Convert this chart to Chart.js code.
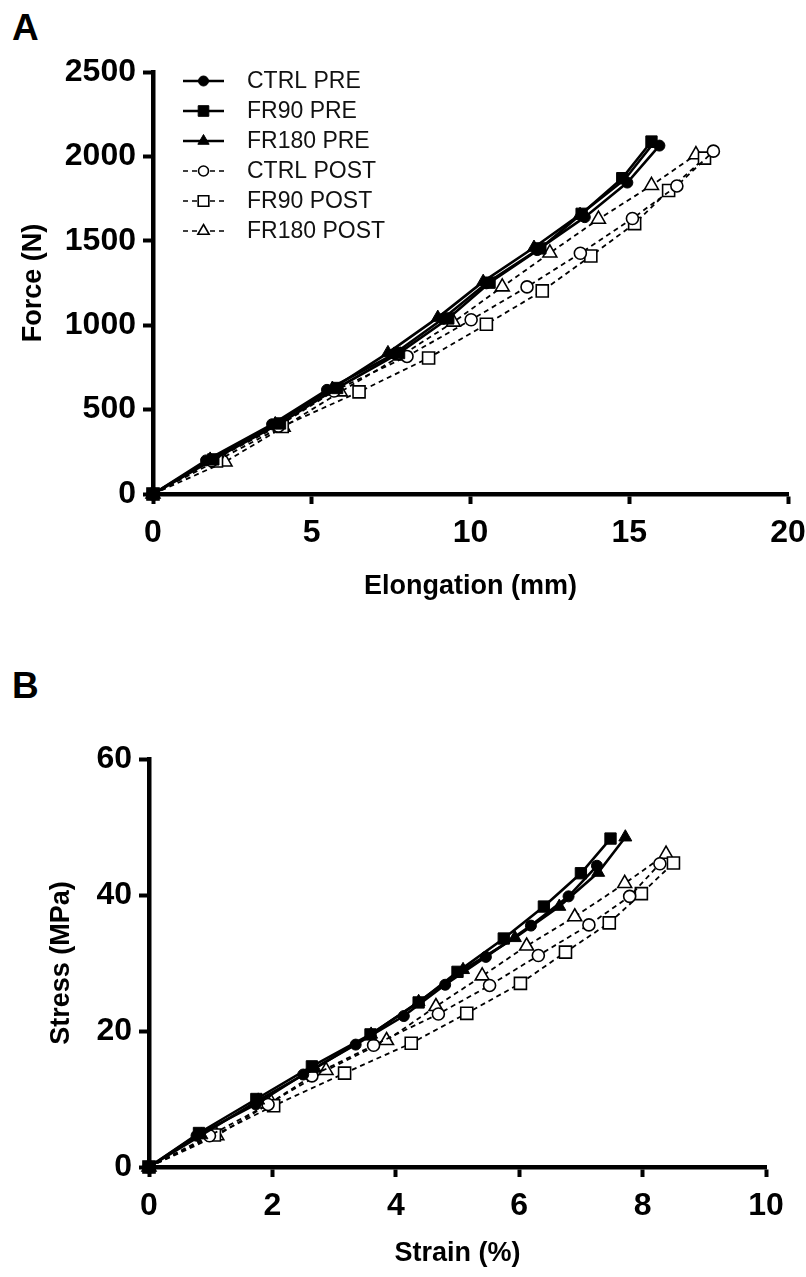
<!DOCTYPE html>
<html>
<head>
<meta charset="utf-8">
<script src="https://cdn.jsdelivr.net/npm/chart.js@4.4.1/dist/chart.umd.min.js"></script>
<style>
  html, body { margin: 0; padding: 0; background: #fff; }
  #wrap { position: relative; width: 806px; height: 1277px; overflow: hidden; background: #fff; }
  canvas { position: absolute; left: 0; }
  .panel { position: absolute; font-family: "Liberation Sans", Arial, sans-serif; font-weight: bold; font-size: 37px; line-height: 37px; color: #000; }
</style>
</head>
<body>
<div id="wrap">
  <div class="panel" style="left:12px; top:9px;">A</div>
  <div class="panel" style="left:12px; top:667px;">B</div>
  <canvas id="cA" width="806" height="640" style="top:0px;"></canvas>
  <canvas id="cB" width="806" height="637" style="top:640px;"></canvas>
</div>
<script>
// ---------- Data ----------
const seriesNames = ["CTRL PRE", "FR90 PRE", "FR180 PRE", "CTRL POST", "FR90 POST", "FR180 POST"];

// Panel A: Elongation (mm) vs Force (N)
const ctrlPreA_x  = [0, 1.67, 3.75, 5.48, 7.6, 9.13, 10.5, 12.1, 13.6, 14.94, 15.95];
const ctrlPreA_y  = [0, 199, 413, 617, 830, 1038, 1248, 1445, 1640, 1845, 2064];
const fr90PreA_x  = [0, 1.9, 4.0, 5.8, 7.75, 9.3, 10.6, 12.2, 13.5, 14.78, 15.7];
const fr90PreA_y  = [0, 205, 418, 628, 835, 1040, 1252, 1455, 1660, 1871, 2088];
const fr180PreA_x = [0, 1.8, 3.85, 5.65, 7.4, 8.97, 10.4, 12.0, 13.45, 14.85, 15.75];
const fr180PreA_y = [0, 205, 415, 625, 836, 1045, 1258, 1460, 1655, 1862, 2075];
const ctrlPostA_x = [0, 1.85, 3.95, 5.7, 8.0, 10.02, 11.78, 13.46, 15.1, 16.5, 17.65];
const ctrlPostA_y = [0, 197, 402, 610, 815, 1032, 1227, 1426, 1632, 1825, 2031];
const fr90PostA_x = [0, 2.0, 4.07, 6.49, 8.68, 10.5, 12.26, 13.79, 15.17, 16.24, 17.37];
const fr90PostA_y = [0, 196, 400, 605, 806, 1006, 1203, 1410, 1602, 1798, 1990];
const fr180PostA_x = [0, 2.27, 4.1, 5.9, 7.8, 9.46, 11.0, 12.5, 14.03, 15.7, 17.1];
const fr180PostA_y = [0, 190, 396, 605, 818, 1018, 1227, 1428, 1628, 1828, 2010];

// Panel B: Strain (%) vs Stress (MPa)
const ctrlPreB_x  = [0, 0.77, 1.73, 2.5, 3.35, 4.13, 4.8, 5.46, 6.19, 6.8, 7.26];
const ctrlPreB_y  = [0, 4.6, 9.2, 13.6, 18.0, 22.2, 26.8, 30.9, 35.5, 39.8, 44.3];
const fr90PreB_x  = [0, 0.81, 1.74, 2.64, 3.59, 4.37, 5.0, 5.75, 6.4, 7.0, 7.48];
const fr90PreB_y  = [0, 5.0, 10.0, 14.8, 19.5, 24.2, 28.7, 33.6, 38.3, 43.2, 48.3];
const fr180PreB_x = [0, 0.85, 1.77, 2.69, 3.6, 4.37, 5.09, 5.93, 6.65, 7.28, 7.72];
const fr180PreB_y = [0, 4.7, 9.8, 14.5, 19.5, 24.3, 29.0, 33.7, 38.3, 43.3, 48.5];
const ctrlPostB_x = [0, 0.98, 1.93, 2.64, 3.64, 4.69, 5.52, 6.31, 7.13, 7.79, 8.28];
const ctrlPostB_y = [0, 4.6, 9.2, 13.4, 17.9, 22.5, 26.7, 31.1, 35.6, 39.8, 44.6];
const fr90PostB_x = [0, 1.06, 2.02, 3.17, 4.25, 5.15, 6.02, 6.75, 7.46, 7.98, 8.5];
const fr90PostB_y = [0, 4.7, 9.0, 13.8, 18.2, 22.6, 27.0, 31.6, 35.9, 40.2, 44.7];
const fr180PostB_x = [0, 1.1, 1.98, 2.87, 3.85, 4.65, 5.4, 6.12, 6.9, 7.71, 8.38];
const fr180PostB_y = [0, 4.6, 9.5, 14.2, 18.6, 23.6, 28.1, 32.5, 36.8, 41.7, 46.0];

// Axis settings / labels
const axisA = { xTitle: "Elongation (mm)", yTitle: "Force (N)", xMax: 20, xStep: 5, yMax: 2500, yStep: 500 };
const axisB = { xTitle: "Strain (%)", yTitle: "Stress (MPa)", xMax: 10, xStep: 2, yMax: 60, yStep: 20 };

// ---------- Helpers ----------
const FONT = '"Liberation Sans", Arial, sans-serif';
Chart.defaults.font.family = FONT;
Chart.defaults.color = '#000';

function pts(xs, ys) { return xs.map((x, i) => ({ x: x, y: ys[i] })); }

const styles = [
  { pointStyle: 'circle',   radius: 5.5, post: false },
  { pointStyle: 'rect',     radius: 8,   post: false },
  { pointStyle: 'triangle', radius: 7.5, post: false },
  { pointStyle: 'circle',   radius: 6,   post: true },
  { pointStyle: 'rect',     radius: 8.5, post: true },
  { pointStyle: 'triangle', radius: 8,   post: true }
];

function makeDatasets(list) {
  return list.map((d, i) => {
    const s = styles[i];
    return {
      label: seriesNames[i],
      data: d,
      borderColor: '#000',
      borderWidth: s.post ? 1.8 : 2.6,
      borderDash: s.post ? [5, 4] : [],
      pointStyle: s.pointStyle,
      pointRadius: s.radius,
      pointHoverRadius: s.radius,
      pointBackgroundColor: s.post ? '#fff' : '#000',
      pointBorderColor: '#000',
      pointBorderWidth: s.post ? 1.6 : 1,
      tension: 0,
      fill: false,
      clip: false
    };
  });
}

const legendPlugin = {
  id: 'customLegend',
  afterDatasetsDraw(chart, args, opts) {
    if (!opts || !opts.show) return;
    const ctx = chart.ctx;
    chart.data.datasets.forEach((ds, i) => {
      const y = opts.y0 + i * opts.dy;
      const xm = (opts.x0 + opts.x1) / 2;
      ctx.save();
      ctx.strokeStyle = '#000';
      ctx.lineWidth = ds.borderDash.length ? 1.6 : 2.6;
      ctx.setLineDash(ds.borderDash);
      ctx.beginPath(); ctx.moveTo(opts.x0, y); ctx.lineTo(opts.x1, y); ctx.stroke();
      ctx.setLineDash([]);
      ctx.fillStyle = ds.pointBackgroundColor;
      ctx.strokeStyle = '#000';
      ctx.lineWidth = ds.pointBorderWidth;
      const r = ds.pointStyle === 'rect' ? 7.5 : (ds.pointStyle === 'triangle' ? 6.5 : 5);
      Chart.helpers.drawPoint(ctx, { pointStyle: ds.pointStyle, rotation: 0, radius: r, borderWidth: ds.pointBorderWidth }, xm, y);
      ctx.fillStyle = '#111';
      ctx.font = '23px ' + FONT;
      ctx.textBaseline = 'middle';
      ctx.textAlign = 'left';
      ctx.fillText(ds.label, opts.tx, y + 1);
      ctx.restore();
    });
  }
};

function scaleOpts(max, step, title, titlePad, yAxis, fitSize, tickPad) {
  return {
    type: 'linear',
    min: 0, max: max,
    ticks: { stepSize: step, font: { size: 32, weight: 'bold' }, color: '#000', padding: tickPad, maxRotation: 0,
             callback: function (v) { return String(v); } },
    grid: { display: true, drawOnChartArea: false, drawTicks: true, tickLength: 10, tickWidth: 4, tickColor: '#000', color: '#000' },
    border: { display: true, width: 4.5, color: '#000' },
    title: { display: true, text: title, font: { size: 27, weight: 'bold' }, color: '#000', padding: titlePad },
    afterFit: function (scale) {
      if (yAxis) { scale.width = fitSize; }
      else { scale.height = fitSize; scale.paddingRight = 0; scale.paddingLeft = 0; }
    }
  };
}

function makeChart(id, datasets, ax, layout, legendOpts) {
  return new Chart(document.getElementById(id), {
    type: 'line',
    data: { datasets: datasets },
    options: {
      responsive: false,
      animation: false,
      devicePixelRatio: 1,
      layout: { padding: layout.padding },
      plugins: { legend: { display: false }, tooltip: { enabled: false }, customLegend: legendOpts },
      scales: {
        x: scaleOpts(ax.xMax, ax.xStep, ax.xTitle, { top: 0, bottom: layout.xTitlePad }, false, layout.xHeight, 10),
        y: scaleOpts(ax.yMax, ax.yStep, ax.yTitle, { top: layout.yTitlePad, bottom: 0 }, true, layout.yWidth, 7)
      }
    },
    plugins: [legendPlugin]
  });
}

const dsA = makeDatasets([
  pts(ctrlPreA_x, ctrlPreA_y), pts(fr90PreA_x, fr90PreA_y), pts(fr180PreA_x, fr180PreA_y),
  pts(ctrlPostA_x, ctrlPostA_y), pts(fr90PostA_x, fr90PostA_y), pts(fr180PostA_x, fr180PostA_y)
]);
const dsB = makeDatasets([
  pts(ctrlPreB_x, ctrlPreB_y), pts(fr90PreB_x, fr90PreB_y), pts(fr180PreB_x, fr180PreB_y),
  pts(ctrlPostB_x, ctrlPostB_y), pts(fr90PostB_x, fr90PostB_y), pts(fr180PostB_x, fr180PostB_y)
]);

makeChart('cA', dsA, axisA,
  { padding: { left: 0, right: 18, top: 72, bottom: 0 }, xHeight: 146, yWidth: 153, xTitlePad: 37, yTitlePad: 17 },
  { show: true, x0: 183, x1: 224, tx: 247, y0: 81, dy: 30 });
makeChart('cB', dsB, axisB,
  { padding: { left: 0, right: 40, top: 119, bottom: 0 }, xHeight: 110, yWidth: 149, xTitlePad: 7, yTitlePad: 45 },
  { show: false });
</script>
</body>
</html>
